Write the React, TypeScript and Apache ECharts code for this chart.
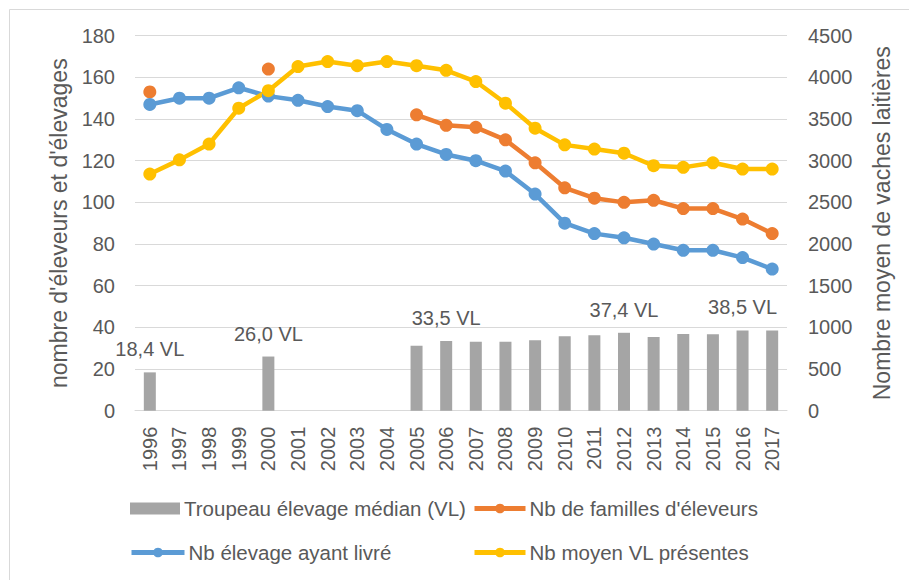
import React, { useEffect, useRef } from "react";
import * as echarts from "echarts";

const years = ["1996","1997","1998","1999","2000","2001","2002","2003","2004","2005","2006","2007","2008","2009","2010","2011","2012","2013","2014","2015","2016","2017"];
const troupeauMedian: (number | null)[] = [18.4, null, null, null, 26.0, null, null, null, null, 31.2, 33.5, 33.1, 33.1, 33.8, 35.7, 36.2, 37.4, 35.4, 36.8, 36.7, 38.5, 38.5];
const labelledYears = ["1996", "2000", "2006", "2012", "2016"];
const famillesEleveurs: (number | null)[] = [153, null, null, null, 164, null, null, null, null, 142, 137, 136, 130, 119, 107, 102, 100, 101, 97, 97, 92, 85];
const elevageLivre: number[] = [147, 150, 150, 155, 151, 149, 146, 144, 135, 128, 123, 120, 115, 104, 90, 85, 83, 80, 77, 77, 73.5, 68];
const moyenVL: number[] = [2840, 3010, 3200, 3630, 3840, 4130, 4190, 4140, 4190, 4140, 4085, 3950, 3690, 3390, 3190, 3140, 3090, 2940, 2920, 2975, 2900, 2900];

const names = {
  bar: "Troupeau élevage médian (VL)",
  fam: "Nb de familles d'éleveurs",
  liv: "Nb élevage ayant livré",
  vl: "Nb moyen VL présentes",
};

const FONT = "Liberation Sans";
const TXT = "#595959";

export default function App() {
  const ref = useRef<HTMLDivElement>(null);
  useEffect(() => {
    if (!ref.current) return;
    const chart = echarts.init(ref.current, null, { renderer: "svg" });
    const legendBase = {
      orient: "horizontal" as const,
      itemGap: 0,
      padding: 0,
      textStyle: { fontFamily: FONT, fontSize: 20.5, color: TXT, padding: [0, 0, 0, -1] },
      itemWidth: 51,
      itemHeight: 12,
      selectedMode: false,
      lineStyle: { width: 5 },
    };
    chart.setOption({
      animation: false,
      textStyle: { fontFamily: FONT },
      graphic: [
        {
          type: "rect",
          shape: { x: 9.5, y: 9.5, width: 1000, height: 1000 },
          style: { fill: "none", stroke: "#D9D9D9", lineWidth: 1 },
          silent: true,
        },
      ],
      grid: { left: 135, right: 122, top: 35.7, bottom: 169.3 },
      legend: [
        { ...legendBase, left: 130, top: 498, icon: "rect", itemWidth: 50, data: [names.bar] },
        { ...legendBase, left: 472, top: 498, data: [names.fam] },
        { ...legendBase, left: 129, top: 542, itemWidth: 53, data: [names.liv] },
        { ...legendBase, left: 472, top: 542, data: [names.vl] },
      ],
      xAxis: {
        type: "category",
        data: years,
        boundaryGap: true,
        axisLine: { lineStyle: { color: "#D9D9D9", width: 1 } },
        axisTick: { show: false },
        axisLabel: { rotate: 90, margin: 16, fontSize: 20, color: TXT, fontFamily: FONT, interval: 0 },
      },
      yAxis: [
        {
          type: "value",
          min: 0,
          max: 180,
          interval: 20,
          name: "nombre d'éleveurs et d'élevages",
          nameLocation: "middle",
          nameRotate: 90,
          nameGap: 64,
          nameTextStyle: { fontSize: 23, color: TXT, fontFamily: FONT },
          axisLine: { show: false },
          axisTick: { show: false },
          axisLabel: { fontSize: 20, color: TXT, margin: 20, fontFamily: FONT },
          splitLine: { lineStyle: { color: "#D9D9D9", width: 1 } },
        },
        {
          type: "value",
          min: 0,
          max: 4500,
          interval: 500,
          name: "Nombre moyen de vaches laitières",
          nameLocation: "middle",
          nameRotate: 90,
          nameGap: 83,
          nameTextStyle: { fontSize: 23, color: TXT, fontFamily: FONT },
          axisLine: { show: false },
          axisTick: { show: false },
          axisLabel: { fontSize: 20, color: TXT, margin: 21, fontFamily: FONT, formatter: (v: number) => String(v) },
          splitLine: { show: false },
        },
      ],
      series: [
        {
          name: names.bar,
          type: "bar",
          yAxisIndex: 0,
          barWidth: 12,
          itemStyle: { color: "#A5A5A5" },
          data: troupeauMedian.map((v, i) => ({
            value: v,
            label: {
              show: labelledYears.includes(years[i]) && v !== null,
              position: "top",
              distance: 13,
              fontSize: 20,
              color: TXT,
              fontFamily: FONT,
              formatter: (p: any) => `${Number(p.value).toFixed(1).replace(".", ",")} VL`,
            },
          })),
        },
        {
          name: names.fam,
          type: "line",
          yAxisIndex: 0,
          data: famillesEleveurs,
          connectNulls: false,
          showAllSymbol: true,
          symbol: "circle",
          symbolSize: 13,
          lineStyle: { color: "#ED7D31", width: 4.5 },
          itemStyle: { color: "#ED7D31" },
        },
        {
          name: names.liv,
          type: "line",
          yAxisIndex: 0,
          data: elevageLivre,
          showAllSymbol: true,
          symbol: "circle",
          symbolSize: 13,
          lineStyle: { color: "#5B9BD5", width: 4.5 },
          itemStyle: { color: "#5B9BD5" },
        },
        {
          name: names.vl,
          type: "line",
          yAxisIndex: 1,
          data: moyenVL,
          showAllSymbol: true,
          symbol: "circle",
          symbolSize: 13,
          lineStyle: { color: "#FFC000", width: 4.5 },
          itemStyle: { color: "#FFC000" },
        },
      ],
    });
    return () => chart.dispose();
  }, []);
  return (
    <div
      ref={ref}
      style={{ position: "absolute", left: 0, top: 0, width: 909, height: 580, background: "#fff" }}
    />
  );
}
